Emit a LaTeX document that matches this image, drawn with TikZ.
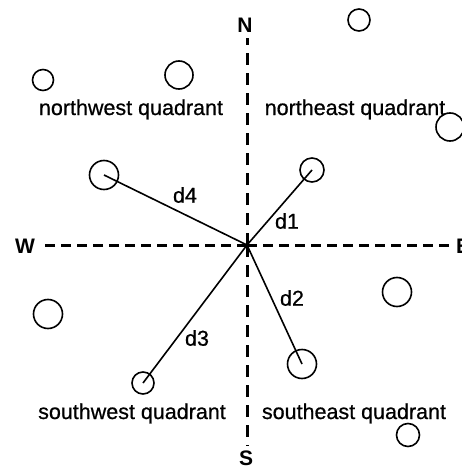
\documentclass[tikz,border=0pt]{standalone}
\usepackage{fontspec}
\setmainfont{Liberation Sans}
\newfontfamily\qfont[FakeBold=0.7]{Liberation Sans}
\begin{document}
\begin{tikzpicture}[x=1pt,y=-1pt,
  pt/.style={draw,circle,line width=1.6pt,inner sep=0pt},
  axis/.style={line width=3pt},
  dist/.style={line width=1.6pt},
  lbl/.style={font=\qfont\fontsize{21.5}{24}\selectfont,inner sep=0pt},
  dir/.style={font=\fontsize{21}{24}\selectfont\bfseries,inner sep=0pt,anchor=base}]
\useasboundingbox (0,0) rectangle (461,468);
\coordinate (O) at (247,245);
\coordinate (ntop) at (247,38);
\coordinate (sbot) at (247,446);
\coordinate (wend) at (40,245);
\coordinate (eend) at (454,245);
\draw[axis,dash pattern=on 12pt off 8pt] (O) -- (ntop);
\draw[axis,dash pattern=on 12pt off 8pt] (O) -- (sbot);
\draw[axis,dash pattern=on 10pt off 6pt] (O) -- (wend);
\draw[axis,dash pattern=on 10pt off 6pt] (O) -- (eend);
\node[dir] (N) at (245,33) {N};
\node[dir] (S) at (246,465) {S};
\node[dir] (W) at (25,253) {W};
\node[dir,anchor=base west] (E) at (456,253) {E};
% points
\node[pt,minimum size=22pt] (p1) at (359,20) {};
\node[pt,minimum size=21pt] (p2) at (43,80) {};
\node[pt,minimum size=28pt] (p3) at (179,75) {};
\node[pt,minimum size=28pt] (p4) at (450,127) {};
\node[pt,minimum size=29pt] (c4) at (104,175) {};
\node[pt,minimum size=24pt] (c1) at (312,170) {};
\node[pt,minimum size=29pt] (p5) at (397,292) {};
\node[pt,minimum size=29pt] (p6) at (48,314) {};
\node[pt,minimum size=22pt] (c3) at (143,383) {};
\node[pt,minimum size=29pt] (c2) at (302,364) {};
\node[pt,minimum size=23pt] (p7) at (408,435) {};
% distances
\draw[dist] (O) -- (c1.center);
\draw[dist] (O) -- (c2.center);
\draw[dist] (O) -- (c3.center);
\draw[dist] (O) -- (c4.center);
\node[lbl] (l1) at (287,221) {d1};
\node[lbl] (l2) at (292,298) {d2};
\node[lbl] (l3) at (197,338) {d3};
\node[lbl] (l4) at (185,195) {d4};
% quadrants
\node[lbl,anchor=base] (nw) at (131,115) {northwest quadrant};
\node[lbl,anchor=base] (ne) at (355,115) {northeast quadrant};
\node[lbl,anchor=base] (sw) at (132,419) {southwest quadrant};
\node[lbl,anchor=base] (se) at (354,419) {southeast quadrant};
\end{tikzpicture}
\end{document}
